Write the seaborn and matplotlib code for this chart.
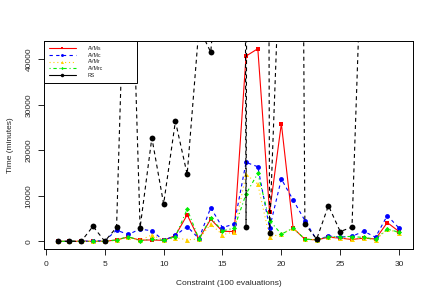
import numpy as np
import pandas as pd
import matplotlib
matplotlib.use('Agg')
import matplotlib.pyplot as plt
from matplotlib.lines import Line2D
import seaborn as sns

# values (minutes), one entry per constraint 1..30
constraint = list(range(1, 31))
avms = [0, 0, 0, 0, 0, 300, 950, 250, 300, 200, 1270, 5810, 500, 4870, 2200,
        2150, 40750, 42370, 6400, 25900, 2890, 480, 300, 900, 700, 400, 700, 500, 4120, 2150]
avmc = [0, 0, 0, 100, 100, 2450, 1500, 2700, 2300, 200, 1300, 3250, 600, 7400, 3030,
        3800, 17370, 16400, 2900, 13700, 9100, 4570, 300, 1150, 900, 1100, 2200, 900, 5660, 2890]
avmr = [0, 0, 0, 0, 0, 200, 900, 200, 1430, 200, 800, 330, 500, 3770, 1430,
        2100, 14800, 12540, 920, 1640, 2890, 480, 300, 1000, 700, 500, 700, 250, 2700, 1800]
avmrc = [0, 0, 0, 0, 0, 300, 1050, 100, 500, 200, 1050, 7060, 500, 5080, 2300,
         2890, 10400, 14950, 4570, 1570, 2890, 480, 300, 1050, 1050, 1050, 840, 500, 2670, 2000]
rs = [0, 0, 0, 3300, 0, 3050, 89000, 3000, 22770, 8220, 26420, 14730, 47000, 41620, 70000,
      900000, 3250, 900000, 1850, 72000, 400000, 3840, 480, 7850, 2150, 3100, 79000,
      np.nan, np.nan, np.nan]

series_names = ['AVMs', 'AVMc', 'AVMr', 'AVMrc', 'RS']
series_vals = [avms, avmc, avmr, avmrc, rs]
colors = ['#FF0000', '#0000FF', '#FFD000', '#00EE00', '#000000']
markers = ['s', 'o', '^', 'D', 'o']
msizes = [3.3, 3.5, 3.6, 2.6, 4.2]
styles = ['-', (0, (3, 3)), (0, (1, 2.5)), (0, (1, 2.5, 3, 2.5)), (0, (3.5, 3))]

sns.set_theme(style='ticks')
plt.rcParams['font.family'] = ['Liberation Sans', 'DejaVu Sans']

fig = plt.figure(figsize=(4.36, 3.0), dpi=100)
ax = fig.add_axes([0.101, 0.17, 0.8456, 0.6933])

for name, vals, c, m, ms, ls in zip(series_names, series_vals, colors, markers, msizes, styles):
    df = pd.DataFrame({'x': constraint, 'y': vals})
    sns.lineplot(data=df, x='x', y='y', ax=ax, color=c, marker=m, markersize=ms,
                 markeredgewidth=0, linestyle=ls, linewidth=0.8, estimator=None,
                 legend=False)

ax.set_xlim(-0.16, 31.16)
ax.set_ylim(-1695, 44065)
ax.set_xticks([0, 5, 10, 15, 20, 25, 30])
ax.set_yticks([0, 10000, 20000, 30000, 40000])
ax.tick_params(axis='both', labelsize=6, length=4.3, width=0.6, color='black', pad=4)
plt.setp(ax.get_yticklabels(), rotation=90, va='center')
for s in ax.spines.values():
    s.set_visible(True)
    s.set_linewidth(0.7)
    s.set_color('black')
ax.set_xlabel('Constraint (100 evaluations)', fontsize=6, labelpad=9)
ax.set_ylabel('Time (minutes)', fontsize=6, labelpad=8)

handles = []
for name, c, m, ms, ls in zip(series_names, colors, markers, msizes, styles):
    if name == 'RS':
        ls = '-'
    handles.append(Line2D([0], [0], color=c, marker=m, markersize=ms * 0.6,
                          markeredgewidth=0, linestyle=ls, linewidth=0.8))
leg = ax.legend(handles, series_names, loc='upper left', bbox_to_anchor=(0, 0.5, 0.252, 0.5),
                mode='expand', borderaxespad=0, fontsize=3.8, labelspacing=0.35,
                handlelength=5.1, handletextpad=2.3, borderpad=0.9,
                fancybox=False, framealpha=1, edgecolor='black')
leg.get_frame().set_linewidth(0.7)

fig.savefig('out.png', dpi=100)
plt.close(fig)
